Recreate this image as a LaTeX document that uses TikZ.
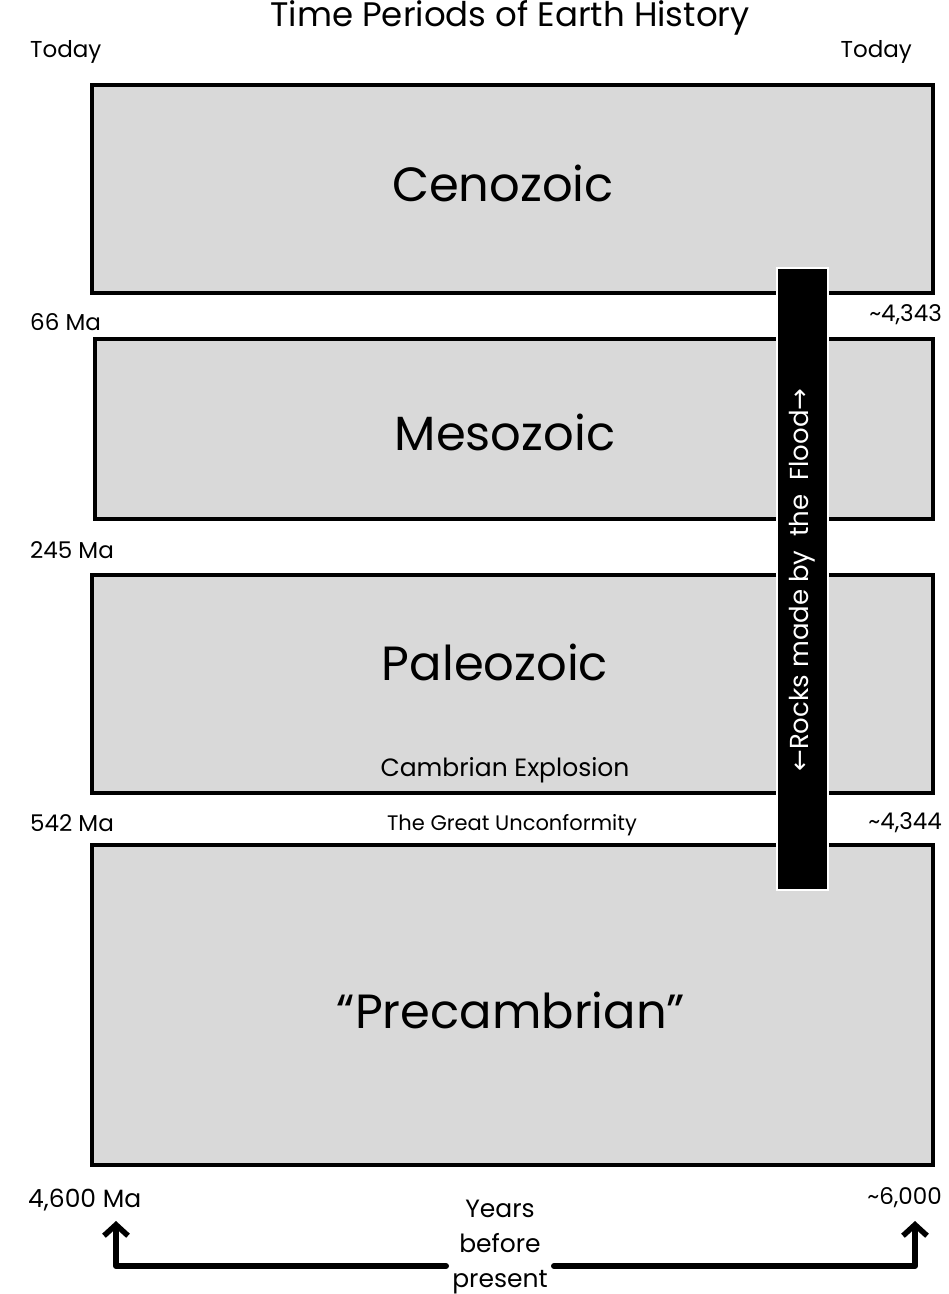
\documentclass[tikz,border=0pt]{standalone}
\usepackage{fontspec}
\setmainfont{Poppins}
\newfontfamily\arrowfont{DejaVu Sans}
\usetikzlibrary{arrows.meta}
\definecolor{eragray}{RGB}{217,217,217}
\tikzset{
  era/.style={draw=black, fill=eragray, line width=3.5pt, inner sep=0pt},
  eraname/.style={font=\fontsize{48}{54}\selectfont},
  smalltxt/.style={font=\fontsize{23}{27}\selectfont, inner sep=0pt},
  floodbar/.style={fill=black, draw=white, line width=1.5pt, inner sep=0pt},
  yeararrow/.style={line width=6pt, line cap=round, line join=round,
    -{Straight Barb[length=11pt,width=24pt,line width=5.5pt]}}
}

\begin{document}
\begin{tikzpicture}[x=1pt,y=-1pt]
\useasboundingbox (0,0) rectangle (949,1294);
\node[font=\fontsize{34}{38}\selectfont, inner sep=0pt] (title) at (510,18) {Time Periods of Earth History};
\node[smalltxt, anchor=west] (todayL) at (30,52) {Today};
\node[smalltxt, anchor=east] (todayR) at (912,52) {Today};

% the four eras
\node[era, minimum width=841pt, minimum height=208pt] (ceno) at (512.5,189) {};
\node[era, minimum width=838pt, minimum height=180pt] (meso) at (514,429) {};
\node[era, minimum width=841pt, minimum height=218pt] (paleo) at (512.5,684) {};
\node[era, minimum width=841pt, minimum height=320pt] (pre) at (512.5,1005) {};
\node[eraname] (cenoname) at (503,183) {Cenozoic};
\node[eraname] (mesoname) at (505,432) {Mesozoic};
\node[eraname] (paleoname) at (495,662) {Paleozoic};
\node[eraname] (prename) at (511,1010) {``Precambrian''};
\node[smalltxt, font=\fontsize{25}{29}\selectfont] (cambrian) at (505,770) {Cambrian Explosion};
\node[smalltxt, font=\fontsize{21}{25}\selectfont] (unconf) at (512,825) {The Great Unconformity};

% ages
\node[smalltxt, anchor=west] (ma66) at (30,322) {66 Ma};
\node[smalltxt, anchor=west] (ma245) at (30,550) {245 Ma};
\node[smalltxt, anchor=west] (ma542) at (30,823) {542 Ma};
\node[smalltxt, font=\fontsize{25}{29}\selectfont, anchor=west] (ma4600) at (28,1200) {4,600 Ma};
\node[smalltxt, anchor=east] (yr4343) at (942,315) {\textasciitilde4,343};
\node[smalltxt, anchor=east] (yr4344) at (942,823) {\textasciitilde4,344};
\node[smalltxt, anchor=east] (yr6000) at (942,1198) {\textasciitilde6,000};

% flood rocks
\node[floodbar, minimum width=51pt, minimum height=622pt] (flood) at (802.5,579) {};
\node[smalltxt, font=\fontsize{26}{30}\selectfont, text=white, rotate=90] (floodtxt) at (802.5,580)
  {{\arrowfont ←}Rocks made by\ \ the\ \ Flood{\arrowfont →}};

% years before present
\node[smalltxt, align=center, font=\fontsize{25}{35}\selectfont] (ybp) at (500,1247) {Years\\before\\present};
\coordinate (ybpL) at (446,1266);
\coordinate (ybpR) at (554,1266);
\coordinate (tipL) at (116,1221);
\coordinate (tipR) at (915,1221);
\draw[yeararrow] (ybpL) -| (tipL);
\draw[yeararrow] (ybpR) -| (tipR);
\end{tikzpicture}
\end{document}
